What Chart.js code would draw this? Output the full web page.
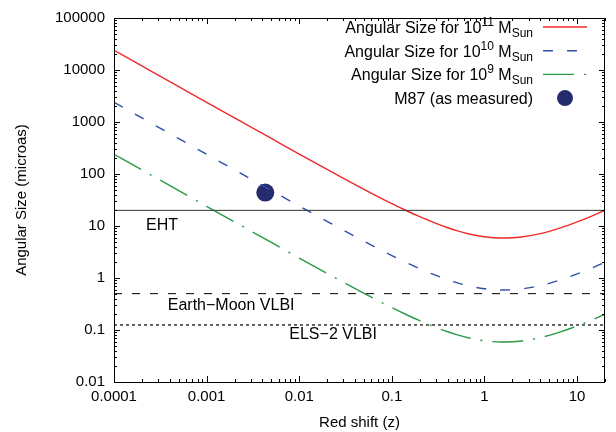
<!DOCTYPE html>
<html><head><meta charset="utf-8">
<script src="https://cdn.jsdelivr.net/npm/chart.js@4.4.1/dist/chart.umd.min.js"></script>
<style>html,body{margin:0;padding:0;background:#fff}#c{display:block}</style>
</head><body>
<canvas id="c" width="616" height="432" style="width:616px;height:432px"></canvas>
<script>
// ---- data ----
const redshift = [0.0001,0.0002,0.0005,0.001,0.002,0.005,0.01,0.02,0.05,0.1,0.15,0.2,0.3,0.4,0.5,0.7,1,1.5,2,2.5,3,4,5,7,10,15,20];
const size1e11 = [23930,11970,4790,2395,1200,482,242,122.6,50.8,26.9,19.0,15.1,11.2,9.25,8.14,6.95,6.2,5.87,5.94,6.16,6.45,7.15,7.9,9.5,12.0,16.0,20.1];
const size1e10 = [2393,1197,479,239.5,120,48.2,24.2,12.26,5.08,2.69,1.90,1.51,1.12,0.925,0.814,0.695,0.62,0.587,0.594,0.616,0.645,0.715,0.79,0.95,1.20,1.60,2.01];
const size1e9  = [239.3,119.7,47.9,23.95,12.0,4.82,2.42,1.226,0.508,0.269,0.190,0.151,0.112,0.0925,0.0814,0.0695,0.062,0.0587,0.0594,0.0616,0.0645,0.0715,0.079,0.095,0.120,0.160,0.201];
const m87Redshift = [0.0043];
const m87Size = [44];
const ehtLimit = [20, 20];
const earthMoonLimit = [0.5, 0.5];
const els2Limit = [0.125, 0.125];
const limitRange = [0.0001, 20];
const xTickValues = [0.0001,0.001,0.01,0.1,1,10];
const xTickLabels = ['0.0001','0.001','0.01','0.1','1','10'];
const yTickValues = [0.01,0.1,1,10,100,1000,10000,100000];
const yTickLabels = ['0.01','0.1','1','10','100','1000','10000','100000'];

const FONT = "'Liberation Sans', Arial, Helvetica, sans-serif";
const RED = '#ee2a2a', BLUE = '#2f4fa6', GREEN = '#2a9a45', NAVY = '#252c6e';

const pts = (xs, ys) => xs.map((x, i) => ({x, y: ys[i]}));

const annotations = [
  {text: 'EHT', z: 0.00033, v: 10},
  {text: 'Earth\u2212Moon VLBI', z: 0.00184, v: 0.30},
  {text: 'ELS\u22122 VLBI', z: 0.0232, v: 0.08}
];

const legendItems = [
  {parts: [['Angular Size for 10','n'],['11','sup'],[' M','n'],['Sun','sub']], color: RED, dash: []},
  {parts: [['Angular Size for 10','n'],['10','sup'],[' M','n'],['Sun','sub']], color: BLUE, dash: [10,14]},
  {parts: [['Angular Size for 10','n'],['9','sup'],[' M','n'],['Sun','sub']], color: GREEN, dash: [31,10,2,10]},
  {parts: [['M87 (as measured)','n']], color: NAVY, dot: true}
];

function setFont(ctx, kind){
  ctx.font = (kind === 'n' ? '16px ' : '12px ') + FONT;
}
function drawRich(ctx, parts, rightX, cy){
  let total = 0;
  parts.forEach(([t,k]) => { setFont(ctx,k); total += ctx.measureText(t).width; });
  let x = rightX - total;
  const base = cy + 6;
  ctx.textAlign = 'left'; ctx.textBaseline = 'alphabetic'; ctx.fillStyle = '#000';
  parts.forEach(([t,k]) => {
    setFont(ctx,k);
    const dy = k === 'sup' ? -7 : (k === 'sub' ? 4 : 0);
    ctx.fillText(t, x, base + dy);
    x += ctx.measureText(t).width;
  });
}

const framePlugin = {
  id: 'frame',
  afterDraw(chart){
    const ctx = chart.ctx, a = chart.chartArea;
    const xs = chart.scales.x, ys = chart.scales.y;
    ctx.save();
    ctx.strokeStyle = '#000'; ctx.lineWidth = 1; ctx.setLineDash([]);
    ctx.strokeRect(Math.round(a.left)+0.5, Math.round(a.top)+0.5, Math.round(a.right-a.left)-1, Math.round(a.bottom-a.top));
    // ticks (inward, mirrored)
    ctx.beginPath();
    for (let k = -4; k <= 1; k++){
      for (let m = 1; m <= 9; m++){
        const v = m * Math.pow(10, k);
        if (v < xs.min * 0.999 || v > xs.max * 1.001) continue;
        const p = Math.round(xs.getPixelForValue(v)) + 0.5;
        const L = m === 1 ? 6 : 3;
        ctx.moveTo(p, a.bottom); ctx.lineTo(p, a.bottom - L);
        ctx.moveTo(p, a.top); ctx.lineTo(p, a.top + L);
      }
    }
    for (let k = -2; k <= 5; k++){
      for (let m = 1; m <= 9; m++){
        const v = m * Math.pow(10, k);
        if (v < ys.min * 0.999 || v > ys.max * 1.001) continue;
        const p = Math.round(ys.getPixelForValue(v)) + 0.5;
        const L = m === 1 ? 6 : 3;
        ctx.moveTo(a.left, p); ctx.lineTo(a.left + L, p);
        ctx.moveTo(a.right, p); ctx.lineTo(a.right - L, p);
      }
    }
    ctx.stroke();
    // annotation labels
    ctx.fillStyle = '#000'; ctx.font = '16px ' + FONT;
    ctx.textAlign = 'center'; ctx.textBaseline = 'middle';
    annotations.forEach(an => ctx.fillText(an.text, xs.getPixelForValue(an.z), ys.getPixelForValue(an.v)));
    // legend
    legendItems.forEach((it, i) => {
      const cy = 27 + i * 23.7;
      drawRich(ctx, it.parts, 533, cy);
      if (it.dot){
        ctx.fillStyle = it.color; ctx.beginPath(); ctx.arc(565, cy, 8, 0, Math.PI*2); ctx.fill();
      } else {
        ctx.strokeStyle = it.color; ctx.lineWidth = 1.4; ctx.setLineDash(it.dash);
        ctx.beginPath(); ctx.moveTo(543, cy); ctx.lineTo(587, cy); ctx.stroke();
      }
    });
    ctx.restore();
  }
};

new Chart(document.getElementById('c'), {
  type: 'line',
  data: {
    datasets: [
      {data: pts(limitRange, ehtLimit), borderColor: '#333', borderWidth: 1, pointRadius: 0, tension: 0},
      {data: pts(limitRange, earthMoonLimit), borderColor: '#000', borderWidth: 1, borderDash: [8,10], pointRadius: 0, tension: 0},
      {data: pts(limitRange, els2Limit), borderColor: '#000', borderWidth: 1.2, borderDash: [3,3], pointRadius: 0, tension: 0},
      {data: pts(redshift, size1e11), borderColor: RED, borderWidth: 1.4, pointRadius: 0, cubicInterpolationMode: 'monotone'},
      {data: pts(redshift, size1e10), borderColor: BLUE, borderWidth: 1.4, borderDash: [10,14], pointRadius: 0, cubicInterpolationMode: 'monotone'},
      {data: pts(redshift, size1e9), borderColor: GREEN, borderWidth: 1.4, borderDash: [31,10,2,10], pointRadius: 0, cubicInterpolationMode: 'monotone'},
      {data: pts(m87Redshift, m87Size), showLine: false, pointRadius: 9, pointHoverRadius: 9, backgroundColor: NAVY, borderColor: NAVY, borderWidth: 0}
    ]
  },
  options: {
    responsive: false, animation: false,
    layout: {padding: {left: 0, right: 11, top: 11, bottom: 0}},
    plugins: {legend: {display: false}, tooltip: {enabled: false}},
    scales: {
      x: {
        type: 'logarithmic', min: 0.0001, max: 20,
        afterBuildTicks: s => { s.ticks = xTickValues.map(v => ({value: v})); },
        afterFit: s => { s.height = 50; },
        ticks: {autoSkip: false, maxRotation: 0, padding: 6, color: '#000', font: {family: FONT, size: 15},
          callback: (v) => { const i = xTickValues.findIndex(t => Math.abs(t - v) / t < 1e-6); return i >= 0 ? xTickLabels[i] : ''; }},
        grid: {display: false, drawTicks: false},
        border: {display: false},
        title: {display: true, text: 'Red shift (z)', color: '#000', font: {family: FONT, size: 15}, padding: {top: 0, bottom: 0}}
      },
      y: {
        type: 'logarithmic', min: 0.01, max: 100000,
        afterBuildTicks: s => { s.ticks = yTickValues.map(v => ({value: v})); },
        afterFit: s => { s.width = 114; },
        ticks: {autoSkip: false, padding: 9, color: '#000', font: {family: FONT, size: 15},
          callback: (v) => { const i = yTickValues.findIndex(t => Math.abs(t - v) / t < 1e-6); return i >= 0 ? yTickLabels[i] : ''; }},
        grid: {display: false, drawTicks: false},
        border: {display: false},
        title: {display: true, text: 'Angular Size (microas)', color: '#000', font: {family: FONT, size: 15}, padding: {top: 13, bottom: 0}}
      }
    }
  },
  plugins: [framePlugin]
});
</script>
</body></html>
